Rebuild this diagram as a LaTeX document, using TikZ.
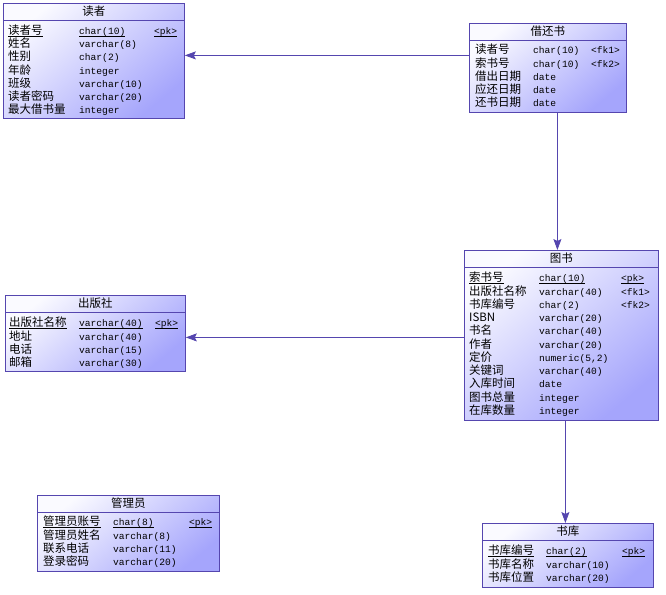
\documentclass[tikz,border=0pt]{standalone}
\usepackage{fontspec}
\usepackage{array}
\setmainfont{Noto Sans CJK SC}
\setmonofont{Liberation Mono}
\usetikzlibrary{arrows.meta}
\definecolor{erlight}{RGB}{250,250,255}
\definecolor{erdark}{RGB}{165,165,252}
\definecolor{erborder}{RGB}{85,70,175}
\newcommand{\ty}[1]{{\ttfamily\fontsize{9.6}{10}\selectfont #1}}
\newcommand{\pk}[1]{\underline{\raisebox{0pt}[\height][0pt]{#1}}}
\setlength{\extrarowheight}{3.25pt}

\begin{document}
\begin{tikzpicture}[
    x=1pt, y=-1pt,
    entity/.style={rectangle, draw=erborder, line width=0.8pt, anchor=north west,
        top color=erlight, bottom color=erdark, shading angle=40, inner sep=0pt},
    title/.style={font=\fontsize{11.5}{13.25}\selectfont, inner sep=0pt},
    rows/.style={anchor=north west, inner sep=0pt, align=left,
        font=\fontsize{11.5}{10}\selectfont},
    sep/.style={draw=erborder, line width=0.8pt},
    fk/.style={draw=erborder, line width=0.8pt, -{Stealth[length=11pt, width=8pt, inset=2pt]}}
]
\useasboundingbox (0,0) rectangle (666,594);

% 读者
\node[entity, minimum width=181pt, minimum height=115pt] (duzhe) at (3,3) {};
\node[title] (duzhe-t) at ([yshift=-8.5pt]duzhe.north) {读者};
\draw[sep] ([yshift=-17pt]duzhe.north west) -- ([yshift=-17pt]duzhe.north east);
\node[rows] (duzhe-r) at ([xshift=5pt, yshift=-21pt]duzhe.north west) {%
    \begin{tabular}{@{}p{71pt}@{}p{75pt}@{}l@{}}
    \pk{读者号} & \ty{\pk{char(10)}} & \ty{\pk{<pk>}}\\
    姓名 & \ty{varchar(8)} & \\
    性别 & \ty{char(2)} & \\
    年龄 & \ty{integer} & \\
    班级 & \ty{varchar(10)} & \\
    读者密码 & \ty{varchar(20)} & \\
    最大借书量 & \ty{integer} &
    \end{tabular}};

% 借还书
\node[entity, minimum width=157pt, minimum height=89pt] (jiehuanshu) at (469,23) {};
\node[title] (jiehuanshu-t) at ([yshift=-8.5pt]jiehuanshu.north) {借还书};
\draw[sep] ([yshift=-17pt]jiehuanshu.north west) -- ([yshift=-17pt]jiehuanshu.north east);
\node[rows] (jiehuanshu-r) at ([xshift=6pt, yshift=-20.5pt]jiehuanshu.north west) {%
    \begin{tabular}{@{}p{58pt}@{}p{58pt}@{}l@{}}
    读者号 & \ty{char(10)} & \ty{<fk1>}\\
    索书号 & \ty{char(10)} & \ty{<fk2>}\\
    借出日期 & \ty{date} & \\
    应还日期 & \ty{date} & \\
    还书日期 & \ty{date} &
    \end{tabular}};

% 图书
\node[entity, minimum width=194pt, minimum height=170pt] (tushu) at (464,250) {};
\node[title] (tushu-t) at ([yshift=-8.5pt]tushu.north) {图书};
\draw[sep] ([yshift=-17pt]tushu.north west) -- ([yshift=-17pt]tushu.north east);
\node[rows] (tushu-r) at ([xshift=5pt, yshift=-21.5pt]tushu.north west) {%
    \begin{tabular}{@{}p{70pt}@{}p{82pt}@{}l@{}}
    \pk{索书号} & \ty{\pk{char(10)}} & \ty{\pk{<pk>}}\\
    出版社名称 & \ty{varchar(40)} & \ty{<fk1>}\\
    书库编号 & \ty{char(2)} & \ty{<fk2>}\\
    ISBN & \ty{varchar(20)} & \\
    书名 & \ty{varchar(40)} & \\
    作者 & \ty{varchar(20)} & \\
    定价 & \ty{numeric(5,2)} & \\
    关键词 & \ty{varchar(40)} & \\
    入库时间 & \ty{date} & \\
    图书总量 & \ty{integer} & \\
    在库数量 & \ty{integer} &
    \end{tabular}};

% 出版社
\node[entity, minimum width=180pt, minimum height=76pt] (chubanshe) at (5,295) {};
\node[title] (chubanshe-t) at ([yshift=-8.5pt]chubanshe.north) {出版社};
\draw[sep] ([yshift=-17pt]chubanshe.north west) -- ([yshift=-17pt]chubanshe.north east);
\node[rows] (chubanshe-r) at ([xshift=4pt, yshift=-21.5pt]chubanshe.north west) {%
    \begin{tabular}{@{}p{70pt}@{}p{76pt}@{}l@{}}
    \pk{出版社名称} & \ty{\pk{varchar(40)}} & \ty{\pk{<pk>}}\\
    地址 & \ty{varchar(40)} & \\
    电话 & \ty{varchar(15)} & \\
    邮箱 & \ty{varchar(30)} &
    \end{tabular}};

% 管理员
\node[entity, minimum width=182pt, minimum height=76pt] (guanliyuan) at (37,495) {};
\node[title] (guanliyuan-t) at ([yshift=-8.5pt]guanliyuan.north) {管理员};
\draw[sep] ([yshift=-17pt]guanliyuan.north west) -- ([yshift=-17pt]guanliyuan.north east);
\node[rows] (guanliyuan-r) at ([xshift=6pt, yshift=-20.5pt]guanliyuan.north west) {%
    \begin{tabular}{@{}p{70pt}@{}p{76pt}@{}l@{}}
    \pk{管理员账号} & \ty{\pk{char(8)}} & \ty{\pk{<pk>}}\\
    管理员姓名 & \ty{varchar(8)} & \\
    联系电话 & \ty{varchar(11)} & \\
    登录密码 & \ty{varchar(20)} &
    \end{tabular}};

% 书库
\node[entity, minimum width=171pt, minimum height=64pt] (shuku) at (482,523) {};
\node[title] (shuku-t) at ([yshift=-8.5pt]shuku.north) {书库};
\draw[sep] ([yshift=-17pt]shuku.north west) -- ([yshift=-17pt]shuku.north east);
\node[rows] (shuku-r) at ([xshift=6pt, yshift=-21.5pt]shuku.north west) {%
    \begin{tabular}{@{}p{58pt}@{}p{76pt}@{}l@{}}
    \pk{书库编号} & \ty{\pk{char(2)}} & \ty{\pk{<pk>}}\\
    书库名称 & \ty{varchar(10)} & \\
    书库位置 & \ty{varchar(20)} &
    \end{tabular}};

% 外键引用
\draw[fk] ([yshift=12.5pt]jiehuanshu.west) -- ([yshift=12.5pt]jiehuanshu.west -| duzhe.east);
\draw[fk] ([xshift=9.5pt]jiehuanshu.south) -- ([xshift=9.5pt]jiehuanshu.south |- tushu.north);
\draw[fk] ([yshift=-2pt]tushu.west) -- ([yshift=-2pt]tushu.west -| chubanshe.east);
\draw[fk] ([xshift=4pt]tushu.south) -- ([xshift=4pt]tushu.south |- shuku.north);
\end{tikzpicture}
\end{document}
